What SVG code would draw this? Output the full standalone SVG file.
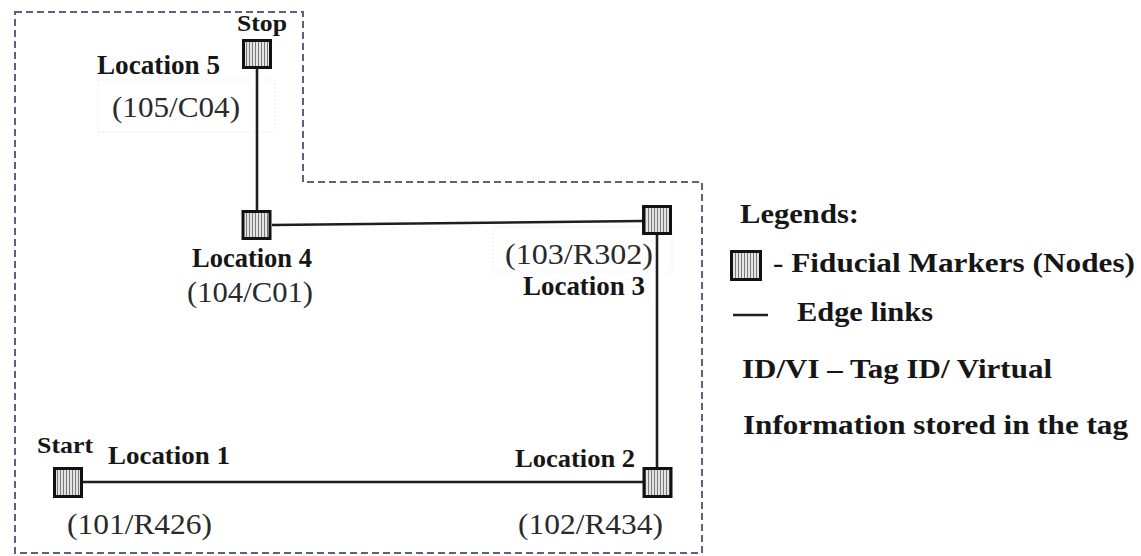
<svg xmlns="http://www.w3.org/2000/svg" width="1141" height="556" viewBox="0 0 1141 556">
  <style>
    .bold { font-family: "Liberation Serif", "Times New Roman", serif; font-weight: bold; fill: #161616; }
    .id { font-family: "Liberation Serif", "Times New Roman", serif; font-weight: normal; fill: #2a2a2a; }
    .edge { stroke: #1e1e1e; stroke-width: 2.6; fill: none; }
    .marker { fill: url(#stripes); stroke: #111; stroke-width: 3; }
    .area { fill: none; stroke: #5a6480; stroke-width: 2; stroke-dasharray: 7 4; }
    .tagbox { fill: none; stroke: #ededed; stroke-width: 1; stroke-dasharray: 2 2; }
  </style>
  <defs>
    <!-- vertical hatching used inside every fiducial marker -->
    <pattern id="stripes" width="3" height="10" patternUnits="userSpaceOnUse">
      <rect width="3" height="10" fill="#e4e4e4"/>
      <line x1="0.5" y1="0" x2="0.5" y2="10" stroke="#7a7a7a" stroke-width="1"/>
    </pattern>
  </defs>

  <rect width="1141" height="556" fill="#ffffff"/>

  <!-- covered floor area -->
  <path class="area" d="M15,12 H303 V182 H702 V553 H15 Z"/>

  <!-- faint frames around two tag labels -->
  <rect class="tagbox" x="98" y="80" width="177" height="52"/>
  <rect class="tagbox" x="493" y="227" width="179" height="45"/>

  <!-- edge links -->
  <g id="edges">
    <line class="edge" x1="257" y1="69" x2="257" y2="210"/>
    <line class="edge" x1="272" y1="225" x2="642" y2="221"/>
    <line class="edge" x1="657" y1="235" x2="657" y2="467"/>
    <line class="edge" x1="82" y1="482" x2="643" y2="482"/>
  </g>

  <!-- Location 5 (stop) -->
  <g id="node-location5">
    <rect class="marker" x="243.5" y="40.5" width="27" height="27"/>
    <text class="bold" x="237" y="31" font-size="24" textLength="50" lengthAdjust="spacingAndGlyphs">Stop</text>
    <text class="bold" x="97" y="74" font-size="27" textLength="123" lengthAdjust="spacingAndGlyphs">Location 5</text>
    <text class="id" x="112" y="117" font-size="30" textLength="128" lengthAdjust="spacingAndGlyphs">(105/C04)</text>
  </g>

  <!-- Location 4 -->
  <g id="node-location4">
    <rect class="marker" x="243" y="211.5" width="27" height="27"/>
    <text class="bold" x="192" y="267" font-size="27" textLength="120" lengthAdjust="spacingAndGlyphs">Location 4</text>
    <text class="id" x="187" y="302" font-size="30" textLength="126" lengthAdjust="spacingAndGlyphs">(104/C01)</text>
  </g>

  <!-- Location 3 -->
  <g id="node-location3">
    <rect class="marker" x="643.5" y="206.5" width="27" height="27"/>
    <text class="id" x="505" y="264" font-size="30" textLength="148" lengthAdjust="spacingAndGlyphs">(103/R302)</text>
    <text class="bold" x="523" y="295" font-size="27" textLength="122" lengthAdjust="spacingAndGlyphs">Location 3</text>
  </g>

  <!-- Location 2 -->
  <g id="node-location2">
    <rect class="marker" x="644" y="468.5" width="27" height="28"/>
    <text class="bold" x="515" y="467" font-size="26" textLength="120" lengthAdjust="spacingAndGlyphs">Location 2</text>
    <text class="id" x="518" y="534" font-size="30" textLength="145" lengthAdjust="spacingAndGlyphs">(102/R434)</text>
  </g>

  <!-- Location 1 (start) -->
  <g id="node-location1">
    <rect class="marker" x="54.5" y="468.5" width="27" height="28"/>
    <text class="bold" x="37" y="453" font-size="24" textLength="56" lengthAdjust="spacingAndGlyphs">Start</text>
    <text class="bold" x="108" y="464" font-size="26" textLength="122" lengthAdjust="spacingAndGlyphs">Location 1</text>
    <text class="id" x="67" y="534" font-size="30" textLength="145" lengthAdjust="spacingAndGlyphs">(101/R426)</text>
  </g>

  <!-- legend -->
  <g id="legend">
    <text class="bold" x="740" y="223" font-size="27" textLength="119" lengthAdjust="spacingAndGlyphs">Legends:</text>
    <rect class="marker" x="731.5" y="251.5" width="29" height="28"/>
    <text class="bold" x="773" y="272" font-size="27" textLength="362" lengthAdjust="spacingAndGlyphs">- Fiducial Markers (Nodes)</text>
    <line class="edge" x1="733" y1="315" x2="768" y2="315"/>
    <text class="bold" x="797" y="321" font-size="27" textLength="136" lengthAdjust="spacingAndGlyphs">Edge links</text>
    <text class="bold" x="742" y="378" font-size="27" textLength="310" lengthAdjust="spacingAndGlyphs">ID/VI – Tag ID/ Virtual</text>
    <text class="bold" x="743" y="434" font-size="27" textLength="385" lengthAdjust="spacingAndGlyphs">Information stored in the tag</text>
  </g>
</svg>
